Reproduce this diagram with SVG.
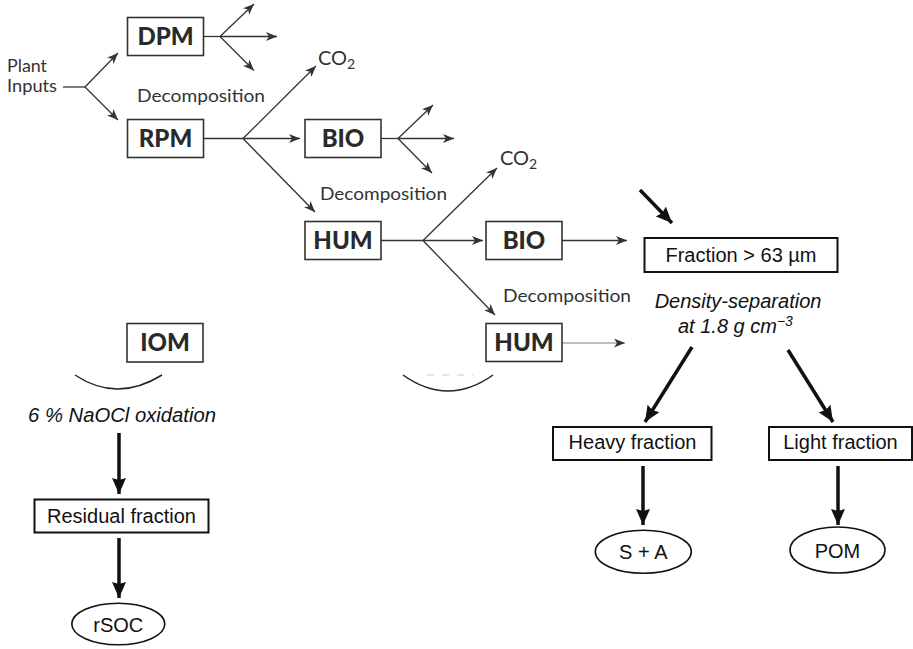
<svg xmlns="http://www.w3.org/2000/svg" width="913" height="649" viewBox="0 0 913 649">
<style>
.bg{fill:#fff}
.box{fill:#fff;stroke:#333;stroke-width:1.6}
.box2{fill:#fff;stroke:#111;stroke-width:2}
.lbl{font-family:Lato,"Open Sans",sans-serif;font-weight:900;font-size:24px;fill:#2a2a2a;text-anchor:middle}
.gs{font-family:Lato,"Open Sans",sans-serif;font-size:18px;fill:#333}
.ar{font-family:"Liberation Sans",Arial,sans-serif;font-size:20px;fill:#111}
.mid{text-anchor:middle}
.it{font-style:italic}
.thin{fill:none;stroke:#333;stroke-width:1.3}
.thick{fill:none;stroke:#111;stroke-width:3.5}
</style>
<defs>
<marker id="ah" markerUnits="userSpaceOnUse" markerWidth="12" markerHeight="10" refX="11" refY="4.5" orient="auto">
<path d="M0,0 L11,4.5 L0,9 L3,4.5 z" fill="#333"/>
</marker>
<marker id="ahb" markerUnits="userSpaceOnUse" markerWidth="17" markerHeight="15" refX="16" refY="7" orient="auto">
<path d="M0,0 L16,7 L0,14 L2,7 z" fill="#111"/>
</marker>
</defs>
<rect class="bg" x="0" y="0" width="913" height="649"/>

<g id="connectors">
<path class="thin" d="M63,87 L85,87"/>
<path class="thin" d="M85,87 L118,53" marker-end="url(#ah)"/>
<path class="thin" d="M85,87 L118,120" marker-end="url(#ah)"/>
<path class="thin" d="M203,36.5 L220,36.5"/>
<path class="thin" d="M220,36.5 L254,4" marker-end="url(#ah)"/>
<path class="thin" d="M220,36.5 L277,36.5" marker-end="url(#ah)"/>
<path class="thin" d="M220,36.5 L254,70.5" marker-end="url(#ah)"/>
<path class="thin" d="M203,138.5 L243,138.5"/>
<path class="thin" d="M243,138.5 L316,66" marker-end="url(#ah)"/>
<path class="thin" d="M243,138.5 L300,138.5" marker-end="url(#ah)"/>
<path class="thin" d="M243,138.5 L315,212" marker-end="url(#ah)"/>
<path class="thin" d="M381,138.5 L398,138.5"/>
<path class="thin" d="M398,138.5 L433,105" marker-end="url(#ah)"/>
<path class="thin" d="M398,138.5 L454,138.5" marker-end="url(#ah)"/>
<path class="thin" d="M398,138.5 L432,173" marker-end="url(#ah)"/>
<path class="thin" d="M381,240.5 L423,240.5"/>
<path class="thin" d="M423,240.5 L497,168" marker-end="url(#ah)"/>
<path class="thin" d="M423,240.5 L483,240.5" marker-end="url(#ah)"/>
<path class="thin" d="M423,240.5 L495,315" marker-end="url(#ah)"/>
<path class="thin" d="M562,240.5 L627,240.5" marker-end="url(#ah)"/>
<path class="thin" d="M562,343 L625,343" style="stroke:#aaa" marker-end="url(#ah)"/>
<path class="thin" d="M75,375 Q117,403 162,375" style="stroke:#222;stroke-width:1.5"/>
<path class="thin" d="M403,375 Q448,407 493,375" style="stroke:#222;stroke-width:1.5"/>
<path d="M427,375 L473,375" style="fill:none;stroke:#ccc;stroke-width:1.2;stroke-dasharray:7,8"/>
<path class="thick" d="M640,190 L672,223" marker-end="url(#ahb)"/>
<path class="thick" d="M119,433 L119,494" marker-end="url(#ahb)"/>
<path class="thick" d="M119,538 L119,598" marker-end="url(#ahb)"/>
<path class="thick" d="M692,347 L645,422" marker-end="url(#ahb)"/>
<path class="thick" d="M788,350 L833,422" marker-end="url(#ahb)"/>
<path class="thick" d="M643,466 L643,525" marker-end="url(#ahb)"/>
<path class="thick" d="M838,466 L838,525" marker-end="url(#ahb)"/>
</g>

<g id="labels">
<text class="gs" x="7" y="72" textLength="40" lengthAdjust="spacingAndGlyphs">Plant</text>
<text class="gs" x="7" y="92" textLength="50" lengthAdjust="spacingAndGlyphs">Inputs</text>
<text class="gs" x="137" y="102" textLength="128" lengthAdjust="spacingAndGlyphs">Decomposition</text>
<text class="gs" x="320" y="200" textLength="127" lengthAdjust="spacingAndGlyphs">Decomposition</text>
<text class="gs" x="503" y="302" textLength="128" lengthAdjust="spacingAndGlyphs">Decomposition</text>
<text class="gs" x="318" y="65" style="font-size:20px">CO<tspan dy="4" style="font-size:14px">2</tspan></text>
<text class="gs" x="500" y="165" style="font-size:20px">CO<tspan dy="4" style="font-size:14px">2</tspan></text>
<text class="ar it" x="28" y="422" textLength="188" lengthAdjust="spacingAndGlyphs">6 % NaOCl oxidation</text>
<text class="ar it mid" x="738" y="308">Density-separation</text>
<text class="ar it" x="678" y="333">at 1.8 g cm<tspan dy="-7" style="font-size:14px">−3</tspan></text>
</g>

<g id="DPM"><rect class="box" x="127.5" y="17.5" width="76" height="38"/><text class="lbl" x="165.5" y="44.5">DPM</text></g>
<g id="RPM"><rect class="box" x="127.5" y="119.5" width="76" height="38"/><text class="lbl" x="165.5" y="146.5">RPM</text></g>
<g id="BIO1"><rect class="box" x="305" y="119.5" width="76" height="38"/><text class="lbl" x="343" y="146.5">BIO</text></g>
<g id="HUM1"><rect class="box" x="305" y="221.5" width="76" height="38"/><text class="lbl" x="343" y="248.5">HUM</text></g>
<g id="BIO2"><rect class="box" x="486" y="221.5" width="76" height="38"/><text class="lbl" x="524" y="248.5">BIO</text></g>
<g id="HUM2"><rect class="box" x="486" y="323.5" width="76" height="38"/><text class="lbl" x="524" y="350.5">HUM</text></g>
<g id="IOM"><rect class="box" x="127" y="323.5" width="76" height="38.5"/><text class="lbl" x="165" y="350.5">IOM</text></g>

<g id="fraction63"><rect class="box2" x="644.5" y="238" width="193" height="34"/><text class="ar mid" x="741" y="262">Fraction &gt; 63 µm</text></g>
<g id="heavy"><rect class="box2" x="553" y="427" width="158.5" height="33"/><text class="ar mid" x="632.5" y="449">Heavy fraction</text></g>
<g id="light"><rect class="box2" x="769" y="427" width="143" height="33"/><text class="ar mid" x="840.5" y="449">Light fraction</text></g>
<g id="residual"><rect class="box2" x="34.5" y="499.5" width="174" height="33"/><text class="ar mid" x="121.5" y="523">Residual fraction</text></g>
<g id="SA"><ellipse cx="643.3" cy="551.7" rx="48" ry="21.5" style="fill:#fff;stroke:#111;stroke-width:1.6"/><text class="ar mid" x="643.3" y="559">S + A</text></g>
<g id="POM"><ellipse cx="837.5" cy="550" rx="47.5" ry="23" style="fill:#fff;stroke:#111;stroke-width:1.6"/><text class="ar mid" x="837.5" y="558">POM</text></g>
<g id="rSOC"><ellipse cx="118.3" cy="624" rx="46.5" ry="20.8" style="fill:#fff;stroke:#111;stroke-width:1.6"/><text class="ar mid" x="118.3" y="631.5">rSOC</text></g>
</svg>
